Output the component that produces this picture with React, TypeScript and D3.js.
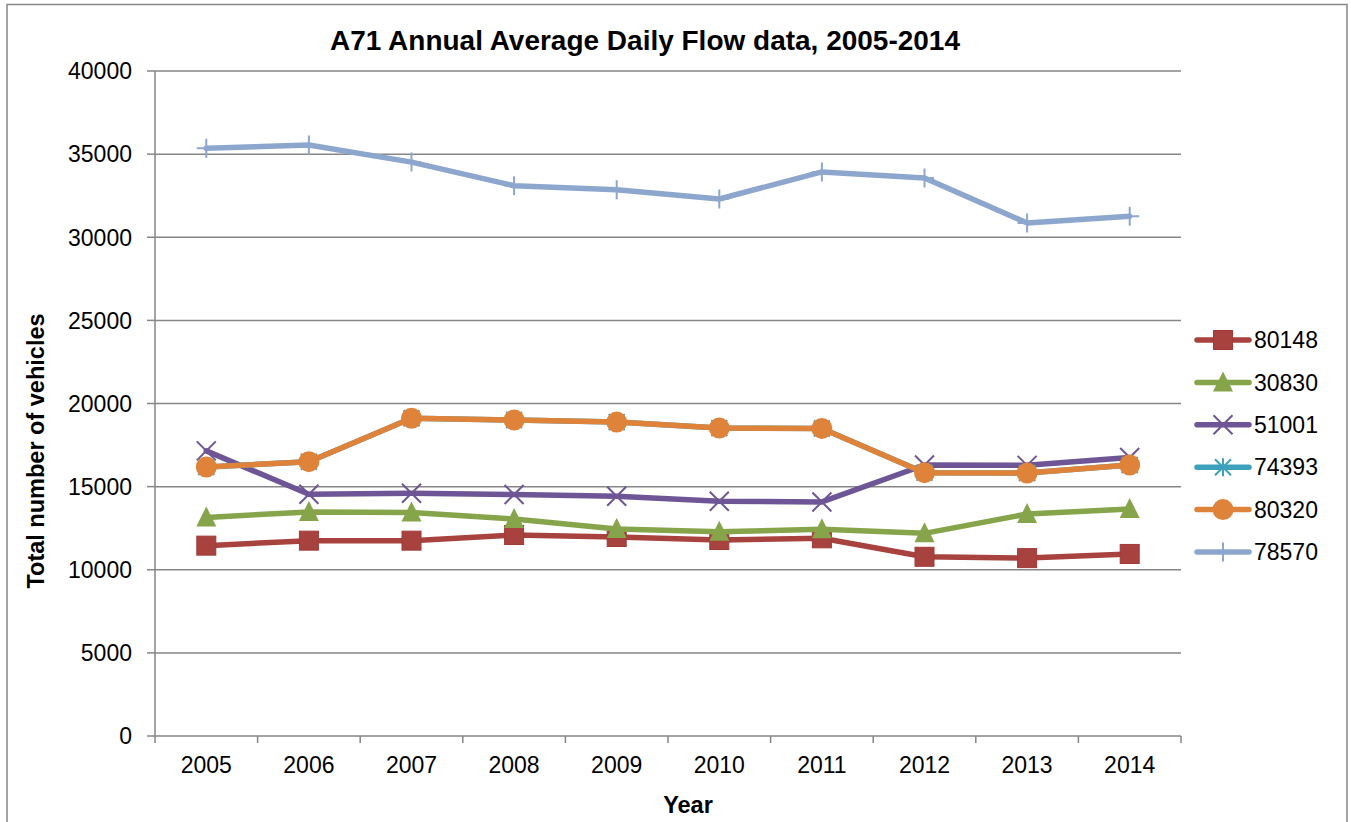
import React, { useEffect, useRef } from "react";
import * as d3 from "d3";

const years = ["2005", "2006", "2007", "2008", "2009", "2010", "2011", "2012", "2013", "2014"];
const s80148 = [11450, 11750, 11750, 12090, 11970, 11790, 11890, 10780, 10700, 10950];
const s30830 = [13150, 13480, 13450, 13050, 12450, 12290, 12430, 12190, 13350, 13650];
const s51001 = [17150, 14540, 14600, 14530, 14420, 14120, 14080, 16300, 16280, 16750];
const s74393 = [16180, 16500, 19110, 19010, 18880, 18520, 18500, 15840, 15820, 16300];
const s80320 = [16180, 16500, 19110, 19010, 18880, 18520, 18500, 15840, 15820, 16300];
const s78570 = [35350, 35550, 34520, 33100, 32860, 32300, 33930, 33560, 30860, 31260];
const yTicks = [0, 5000, 10000, 15000, 20000, 25000, 30000, 35000, 40000];

const seriesList = [
  { name: "80148", values: s80148, color: "#A8423F", marker: "square" },
  { name: "30830", values: s30830, color: "#86A44A", marker: "triangle" },
  { name: "51001", values: s51001, color: "#6E5595", marker: "x" },
  { name: "74393", values: s74393, color: "#3DA1BC", marker: "star" },
  { name: "80320", values: s80320, color: "#DE8339", marker: "circle" },
  { name: "78570", values: s78570, color: "#8DA6CE", marker: "plus" },
];

const W = 1351, H = 822;
const L = 155, R = 1181, T = 71, B = 736;
const FONT = "'Liberation Sans', Arial, sans-serif";

export default function App() {
  const ref = useRef<SVGSVGElement>(null);
  useEffect(() => {
    const svg = d3.select(ref.current);
    svg.selectAll("*").remove();
    svg.append("rect").attr("x", 0).attr("y", 0).attr("width", W).attr("height", H).attr("fill", "#fff");
    svg.append("rect").attr("x", 7).attr("y", 4.5).attr("width", 1340).attr("height", 830)
      .attr("fill", "none").attr("stroke", "#868686").attr("stroke-width", 1.5);

    const x = d3.scaleBand().domain(years).range([L, R]).padding(0);
    const y = d3.scaleLinear().domain([0, 40000]).range([B, T]);
    const cx = (i: number) => (x(years[i]) as number) + x.bandwidth() / 2;

    const g = svg.append("g");
    yTicks.forEach((t) => {
      g.append("line").attr("x1", L).attr("x2", R).attr("y1", y(t)).attr("y2", y(t))
        .attr("stroke", "#868686").attr("stroke-width", 1.5);
      g.append("line").attr("x1", L - 8).attr("x2", L).attr("y1", y(t)).attr("y2", y(t))
        .attr("stroke", "#868686").attr("stroke-width", 1.5);
      g.append("text").attr("x", 132).attr("y", y(t)).attr("dy", "0.36em")
        .attr("text-anchor", "end").attr("font-family", FONT).attr("font-size", 23).text(String(t));
    });
    g.append("line").attr("x1", L).attr("x2", L).attr("y1", T).attr("y2", B)
      .attr("stroke", "#868686").attr("stroke-width", 1.5);
    for (let i = 0; i <= years.length; i++) {
      const xx = L + i * x.bandwidth();
      g.append("line").attr("x1", xx).attr("x2", xx).attr("y1", B).attr("y2", B + 7)
        .attr("stroke", "#868686").attr("stroke-width", 1.5);
    }
    years.forEach((yr, i) => {
      g.append("text").attr("x", cx(i)).attr("y", 773).attr("text-anchor", "middle")
        .attr("font-family", FONT).attr("font-size", 23).text(yr);
    });

    svg.append("text").attr("x", 645).attr("y", 50).attr("text-anchor", "middle")
      .attr("font-family", FONT).attr("font-weight", "bold").attr("font-size", 27)
      .attr("textLength", 630).attr("lengthAdjust", "spacingAndGlyphs")
      .text("A71 Annual Average Daily Flow data, 2005-2014");
    svg.append("text").attr("x", 688).attr("y", 813).attr("text-anchor", "middle")
      .attr("font-family", FONT).attr("font-weight", "bold").attr("font-size", 23.5).text("Year");
    svg.append("text").attr("transform", `translate(44,451) rotate(-90)`)
      .attr("text-anchor", "middle").attr("font-family", FONT).attr("font-weight", "bold")
      .attr("font-size", 23.5).text("Total number of vehicles");

    const drawMarker = (sel: any, kind: string, px: number, py: number, color: string) => {
      if (kind === "square") {
        sel.append("rect").attr("x", px - 9.5).attr("y", py - 9.5).attr("width", 19).attr("height", 19)
          .attr("fill", color).attr("stroke", "#A03B38").attr("stroke-width", 1);
      } else if (kind === "triangle") {
        sel.append("path").attr("d", `M${px},${py - 11}L${px + 10},${py + 9}L${px - 10},${py + 9}Z`)
          .attr("fill", color);
      } else if (kind === "circle") {
        sel.append("circle").attr("cx", px).attr("cy", py).attr("r", 10.5).attr("fill", color);
      } else if (kind === "x") {
        sel.append("path").attr("d", `M${px - 9.5},${py - 9.5}L${px + 9.5},${py + 9.5}M${px - 9.5},${py + 9.5}L${px + 9.5},${py - 9.5}`)
          .attr("stroke", color).attr("stroke-width", 2).attr("fill", "none");
      } else if (kind === "star") {
        sel.append("path").attr("d", `M${px - 8},${py - 8}L${px + 8},${py + 8}M${px - 8},${py + 8}L${px + 8},${py - 8}M${px},${py - 9}L${px},${py + 9}`)
          .attr("stroke", color).attr("stroke-width", 2).attr("fill", "none");
      } else if (kind === "plus") {
        sel.append("path").attr("d", `M${px},${py - 9.5}L${px},${py + 9.5}M${px - 9.5},${py}L${px + 9.5},${py}`)
          .attr("stroke", color).attr("stroke-width", 2).attr("fill", "none");
      }
    };

    const line = d3.line<number>().x((_, i) => cx(i)).y((d) => y(d));
    seriesList.forEach((s) => {
      const sg = svg.append("g");
      sg.append("path").attr("d", line(s.values)).attr("fill", "none").attr("stroke", s.color)
        .attr("stroke-width", 5.5).attr("stroke-linejoin", "round").attr("stroke-linecap", "round");
      s.values.forEach((v, i) => drawMarker(sg, s.marker, cx(i), y(v), s.color));
    });

    const lg = svg.append("g");
    seriesList.forEach((s, i) => {
      const ly = 340 + i * 42.4;
      lg.append("line").attr("x1", 1197).attr("x2", 1249).attr("y1", ly).attr("y2", ly)
        .attr("stroke", s.color).attr("stroke-width", 5.5).attr("stroke-linecap", "round");
      drawMarker(lg, s.marker, 1223, ly, s.color);
      lg.append("text").attr("x", 1254).attr("y", ly).attr("dy", "0.36em")
        .attr("font-family", FONT).attr("font-size", 23).text(s.name);
    });
  }, []);
  return (
    <svg ref={ref} width={W} height={H} style={{ position: "absolute", left: 0, top: 0 }} />
  );
}
